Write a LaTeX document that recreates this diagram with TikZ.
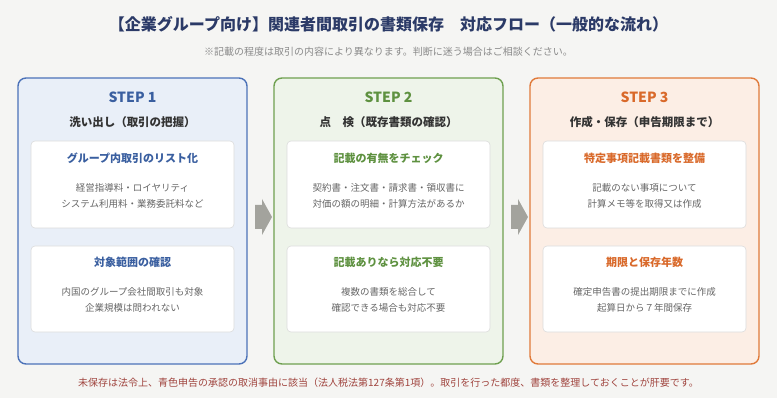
\documentclass[tikz,border=0pt]{standalone}
\usepackage{fontspec}
\setmainfont{Noto Sans CJK JP}
\usetikzlibrary{positioning, calc}

\definecolor{bggray}{HTML}{F5F5F3}
\definecolor{titlenavy}{HTML}{2B3A67}
\definecolor{notegray}{HTML}{8A8A8A}
\definecolor{subdark}{HTML}{333333}
\definecolor{bodygray}{HTML}{666666}
\definecolor{cardline}{HTML}{DCDCDC}
\definecolor{arrowgray}{HTML}{A3A39D}
\definecolor{footred}{HTML}{A0453F}
\definecolor{blueline}{HTML}{4C72B8}
\definecolor{bluefill}{HTML}{E9EFF8}
\definecolor{bluetext}{HTML}{3A5FA0}
\definecolor{greenline}{HTML}{6FA050}
\definecolor{greenfill}{HTML}{EEF4EA}
\definecolor{greentext}{HTML}{5E9140}
\definecolor{orangeline}{HTML}{E07A3A}
\definecolor{orangefill}{HTML}{FCEEE5}
\definecolor{orangetext}{HTML}{D9692A}

\begin{document}
\begin{tikzpicture}[x=1pt, y=-1pt,
  panel/.style={draw, line width=1.4pt, rounded corners=8pt, minimum width=229pt, minimum height=286pt, inner sep=0pt},
  card/.style={draw=cardline, fill=white, line width=0.6pt, rounded corners=4pt, minimum width=203pt, inner sep=0pt},
  steptitle/.style={font=\fontsize{14}{16}\selectfont\bfseries},
  stepsub/.style={font=\fontsize{11.5}{14}\selectfont\bfseries, text=subdark},
  cardhead/.style={font=\fontsize{11}{13}\selectfont\bfseries},
  cardbody/.style={font=\fontsize{9.5}{16}\selectfont, text=bodygray, align=center}]

\fill[bggray] (0,0) rectangle (777,398);
\useasboundingbox (0,0) rectangle (777,398);

% Title
\node[font=\fontsize{16}{18}\selectfont\bfseries, text=titlenavy] (title) at (388.5,24) {【企業グループ向け】関連者間取引の書類保存　対応フロー（一般的な流れ）};
\node[font=\fontsize{10}{12}\selectfont, text=notegray] (note) at (388.5,52) {※記載の程度は取引の内容により異なります。判断に迷う場合はご相談ください。};

% STEP 1
\node[panel, draw=blueline, fill=bluefill] (p1) at (132.5,221) {};
\node[steptitle, text=bluetext] (s1) at (132.5,97) {STEP 1};
\node[stepsub] (s1sub) at (132.5,122) {洗い出し（取引の把握）};
\node[card, minimum height=87pt] (c11) at (132.5,184.5) {};
\node[cardhead, text=bluetext] (c11h) at (132.5,158) {グループ内取引のリスト化};
\node[cardbody] (c11b) at (132.5,196) {経営指導料・ロイヤリティ\\システム利用料・業務委託料など};
\node[card, minimum height=86pt] (c12) at (132.5,289) {};
\node[cardhead, text=bluetext] (c12h) at (132.5,262) {対象範囲の確認};
\node[cardbody] (c12b) at (132.5,300) {内国のグループ会社間取引も対象\\企業規模は問われない};

% STEP 2
\node[panel, draw=greenline, fill=greenfill] (p2) at (388.5,221) {};
\node[steptitle, text=greentext] (s2) at (388.5,97) {STEP 2};
\node[stepsub] (s2sub) at (388.5,122) {点　検（既存書類の確認）};
\node[card, minimum height=87pt] (c21) at (388.5,184.5) {};
\node[cardhead, text=greentext] (c21h) at (388.5,158) {記載の有無をチェック};
\node[cardbody] (c21b) at (388.5,196) {契約書・注文書・請求書・領収書に\\対価の額の明細・計算方法があるか};
\node[card, minimum height=86pt] (c22) at (388.5,289) {};
\node[cardhead, text=greentext] (c22h) at (388.5,262) {記載ありなら対応不要};
\node[cardbody] (c22b) at (388.5,300) {複数の書類を総合して\\確認できる場合も対応不要};

% STEP 3
\node[panel, draw=orangeline, fill=orangefill] (p3) at (644.5,221) {};
\node[steptitle, text=orangetext] (s3) at (644.5,97) {STEP 3};
\node[stepsub] (s3sub) at (644.5,122) {作成・保存（申告期限まで）};
\node[card, minimum height=87pt] (c31) at (644.5,184.5) {};
\node[cardhead, text=orangetext] (c31h) at (644.5,158) {特定事項記載書類を整備};
\node[cardbody] (c31b) at (644.5,196) {記載のない事項について\\計算メモ等を取得又は作成};
\node[card, minimum height=86pt] (c32) at (644.5,289) {};
\node[cardhead, text=orangetext] (c32h) at (644.5,262) {期限と保存年数};
\node[cardbody] (c32b) at (644.5,300) {確定申告書の提出期限までに作成\\起算日から７年間保存};

% arrows between steps
\coordinate (a12) at ($(p1.east)!0.5!(p2.west)+(3,-4)$);
\coordinate (a23) at ($(p2.east)!0.5!(p3.west)+(3,-4)$);
\fill[arrowgray] ($(a12)+(-8.5,-12)$) -- ++(7,0) -- ++(0,-6) -- ++(10,18) -- ++(-10,18) -- ++(0,-6) -- ++(-7,0) -- cycle;
\fill[arrowgray] ($(a23)+(-8.5,-12)$) -- ++(7,0) -- ++(0,-6) -- ++(10,18) -- ++(-10,18) -- ++(0,-6) -- ++(-7,0) -- cycle;

% Footer
\node[font=\fontsize{10}{12}\selectfont, text=footred] (foot) at (388.5,383) {未保存は法令上、青色申告の承認の取消事由に該当（法人税法第127条第1項）。取引を行った都度、書類を整理しておくことが肝要です。};
\end{tikzpicture}
\end{document}
